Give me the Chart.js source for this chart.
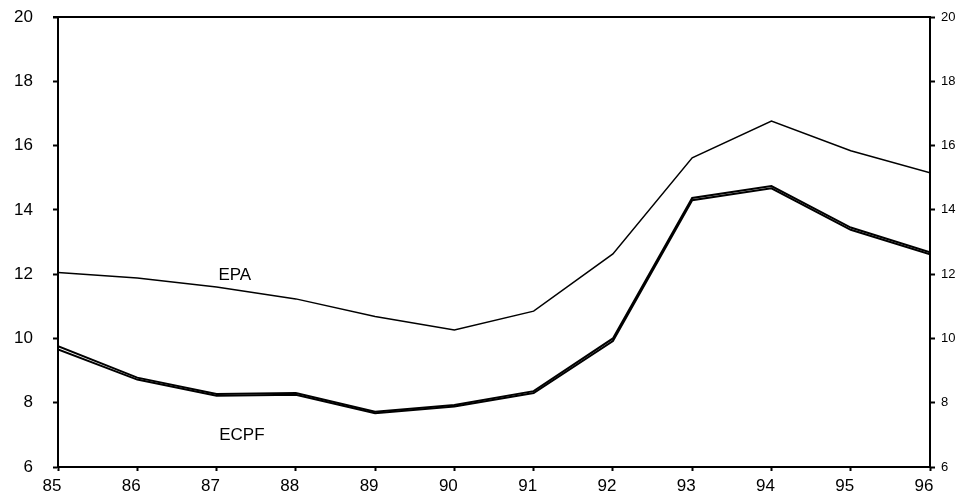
<!doctype html>
<html lang="en">
<head>
    <meta charset="utf-8">
    <title>EPA / ECPF</title>
    <script src="https://cdn.jsdelivr.net/npm/chart.js"></script>
    <style>
        html, body { margin: 0; padding: 0; background: #fff; }
        canvas { display: block; }
    </style>
</head>
<body>
    <canvas id="chart" width="964" height="503"></canvas>

    <script>
        // values
        const years = [85, 86, 87, 88, 89, 90, 91, 92, 93, 94, 95, 96];
        const epa = [12.05, 11.88, 11.6, 11.23, 10.68, 10.26, 10.85, 12.63, 15.62, 16.76, 15.84, 15.15];
        const ecpfA = [9.76, 8.78, 8.27, 8.3, 7.72, 7.93, 8.36, 10.0, 14.37, 14.74, 13.45, 12.68];
        const ecpfB = [9.66, 8.72, 8.22, 8.25, 7.67, 7.88, 8.3, 9.92, 14.3, 14.67, 13.38, 12.62];
        const yTicks = [6, 8, 10, 12, 14, 16, 18, 20];

        const font = "'Liberation Sans', Arial, sans-serif";

        function toPoints(vals) {
            return years.map((y, i) => ({ x: y, y: vals[i] }));
        }

        // top frame line + text labels next to the lines
        const extras = {
            id: 'extras',
            afterDatasetsDraw(chart) {
                const { ctx, scales, chartArea } = chart;
                ctx.save();
                ctx.strokeStyle = '#000';
                ctx.lineWidth = 2;
                ctx.beginPath();
                ctx.moveTo(chartArea.left - 5, chartArea.top);
                ctx.lineTo(chartArea.right + 1, chartArea.top);
                ctx.stroke();

                ctx.fillStyle = '#000';
                ctx.font = '17px ' + font;
                ctx.textAlign = 'center';
                ctx.textBaseline = 'middle';
                ctx.fillText('EPA', scales.x.getPixelForValue(87.23), scales.y.getPixelForValue(11.97));
                ctx.fillText('ECPF', scales.x.getPixelForValue(87.32), scales.y.getPixelForValue(7.0));
                ctx.restore();
            }
        };

        const yOpts = (side, size, pad, w) => ({
            type: 'linear',
            position: side,
            min: 6,
            max: 20,
            afterBuildTicks: s => { s.ticks = yTicks.map(v => ({ value: v })); },
            afterFit: s => { s.width = w; s.paddingTop = 0; s.paddingBottom = 0; },
            border: { display: true, color: '#000', width: 2 },
            grid: { drawOnChartArea: false, drawTicks: true, tickLength: 5, tickWidth: 2, color: '#000' },
            ticks: { color: '#000', font: { family: font, size: size }, padding: pad, autoSkip: false }
        });

        new Chart(document.getElementById('chart'), {
            type: 'line',
            data: {
                datasets: [
                    { label: 'EPA', data: toPoints(epa), borderColor: '#000', borderWidth: 1.5 },
                    { label: 'ECPF', data: toPoints(ecpfA), borderColor: '#000', borderWidth: 2 },
                    { label: 'ECPF 2', data: toPoints(ecpfB), borderColor: '#000', borderWidth: 2 }
                ]
            },
            options: {
                responsive: false,
                animation: false,
                devicePixelRatio: 1,
                layout: { padding: { top: 17, left: 0, right: 0, bottom: 0 } },
                elements: { point: { radius: 0 }, line: { tension: 0 } },
                plugins: { legend: { display: false }, tooltip: { enabled: false } },
                scales: {
                    x: {
                        type: 'linear',
                        position: 'bottom',
                        min: 85,
                        max: 96,
                        afterBuildTicks: s => { s.ticks = years.map(v => ({ value: v })); },
                        afterFit: s => { s.height = 36; s.paddingLeft = 0; s.paddingRight = 0; },
                        border: { display: true, color: '#000', width: 2 },
                        grid: { drawOnChartArea: false, drawTicks: true, tickLength: 4, tickWidth: 2, color: '#000' },
                        ticks: { color: '#000', font: { family: font, size: 17 }, padding: 5, labelOffset: -6, maxRotation: 0, autoSkip: false }
                    },
                    y: yOpts('left', 17, 20, 58),
                    yRight: yOpts('right', 13, 6, 34)
                }
            },
            plugins: [extras]
        });
    </script>
</body>
</html>
